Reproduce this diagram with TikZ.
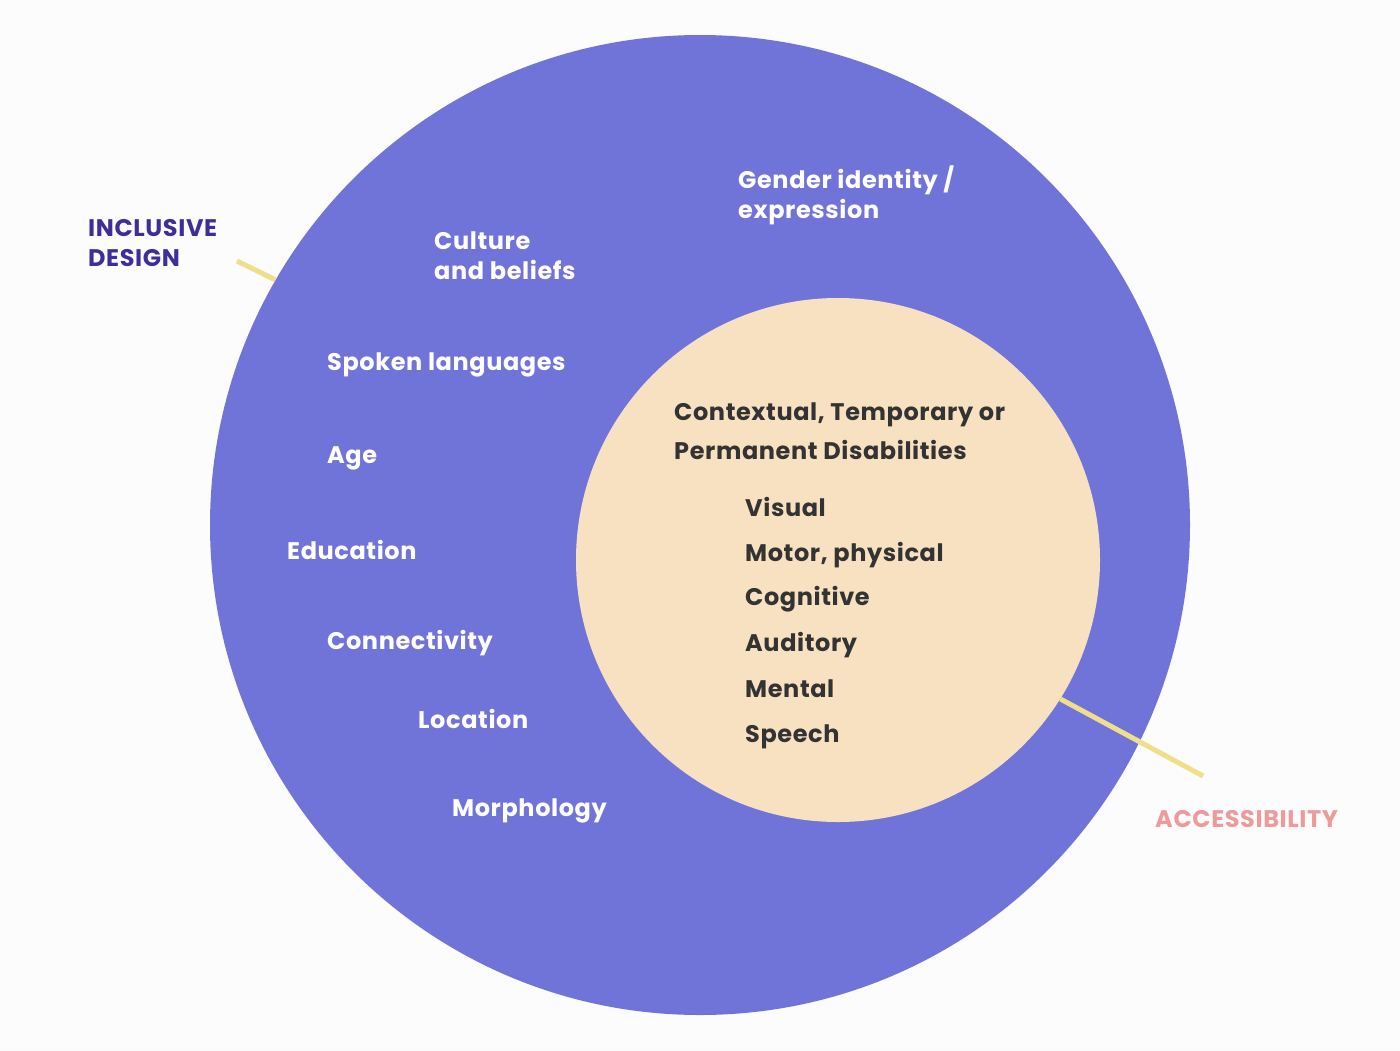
\documentclass[tikz,border=0pt]{standalone}
\usepackage{fontspec}
\setmainfont{Poppins}[LetterSpace=2.5]
\usetikzlibrary{positioning}
\definecolor{paper}{RGB}{252,252,252}
\definecolor{outerblue}{RGB}{112,116,217}
\definecolor{innersand}{RGB}{248,225,192}
\definecolor{stick}{RGB}{240,223,138}
\definecolor{incl}{RGB}{63,46,154}
\definecolor{acc}{RGB}{238,154,154}
\definecolor{ink}{RGB}{51,51,51}
\begin{document}
\begin{tikzpicture}[x=1pt, y=-1pt,
    factor/.style={anchor=west, align=left, inner sep=0pt, text=white,
      font=\bfseries\fontsize{24}{30}\selectfont},
    need/.style={anchor=west, inner sep=0pt, text=ink,
      font=\bfseries\fontsize{24}{30}\selectfont},
    title/.style={anchor=west, align=left, inner sep=0pt,
      font=\bfseries\fontsize{24}{30}\selectfont}]
    % page
    \fill [paper] (0,0) rectangle (1400,1050);
    \useasboundingbox (0,0) rectangle (1400,1050);

    % the two circles
    \node [circle, fill=outerblue, minimum size=980pt, inner sep=0pt] (outer) at (700,525) {};
    \node [circle, fill=innersand, minimum size=524pt, inner sep=0pt] (inner) at (838,560) {};

    % pointers
    \coordinate (inclEnd) at (237,261);
    \coordinate (accEnd) at (1203,776);
    \draw [stick, line width=5pt] (inclEnd) -- (outer.150);
    \draw [stick, line width=5pt] (inner.-32) -- (accEnd);

    % labels
    \node [title, text=incl] (inclusive) at (88,243) {INCLUSIVE\\DESIGN};
    \node [title, text=acc] (access) at (1155,819) {ACCESSIBILITY};

    % outer ring factors
    \node [factor] (gender) at (738,195) {Gender identity /\\expression};
    \node [factor] (culture) at (434,256) {Culture\\and beliefs};
    \node [factor] (spoken) at (327,365) {Spoken languages};
    \node [factor] (age) at (327,458) {Age};
    \node [factor] (education) at (287,550) {Education};
    \node [factor] (connect) at (327,643) {Connectivity};
    \node [factor] (location) at (418,719) {Location};
    \node [factor] (morph) at (452,811) {Morphology};

    % inner circle
    \node [need, align=left, font=\bfseries\fontsize{24}{39}\selectfont] (disab) at (674,431.5)
      {Contextual, Temporary or\\Permanent Disabilities};
    \node [need] (visual) at (745,507) {Visual};
    \node [need] (motor) at (745,555) {Motor, physical};
    \node [need] (cognitive) at (745,599) {Cognitive};
    \node [need] (auditory) at (745,645) {Auditory};
    \node [need] (mental) at (745,689) {Mental};
    \node [need] (speech) at (745,737) {Speech};
\end{tikzpicture}
\end{document}
